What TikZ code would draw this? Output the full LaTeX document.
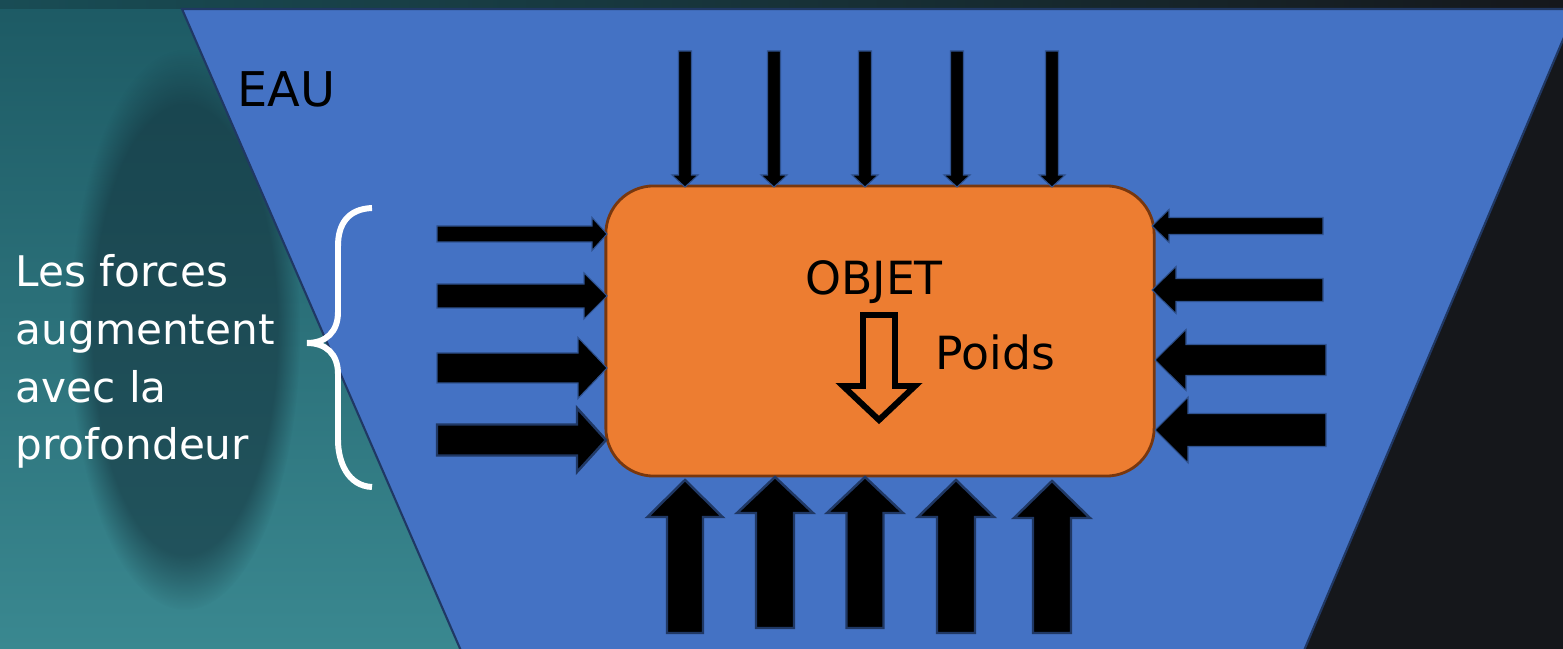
\documentclass[tikz,border=0pt]{standalone}
\usepackage{fontspec}
\setmainfont{DejaVu Sans}
\usetikzlibrary{fadings}
\definecolor{Water}{RGB}{68,114,196}
\definecolor{WaterLine}{RGB}{32,56,100}
\definecolor{Orange}{RGB}{237,125,49}
\definecolor{Rust}{RGB}{120,55,14}
\definecolor{Lagoon}{RGB}{58,136,144}
\definecolor{LagoonDark}{RGB}{29,90,100}
\definecolor{Murk}{RGB}{20,52,62}
\definecolor{Night}{RGB}{21,23,27}
\definecolor{ArrLine}{RGB}{47,82,143}

% block arrow: [style]{tail x,y}{angle}{length}{half shaft}{half head}{head length}
\newcommand{\blockarr}[7][]{%
  \filldraw[force,#1,shift={(#2)},rotate=#3]
    (0,-#5) -- (#4-#7,-#5) -- (#4-#7,-#6) -- (#4,0)
    -- (#4-#7,#6) -- (#4-#7,#5) -- (0,#5) -- cycle;}

\begin{document}
\begin{tikzpicture}[x=0.01cm,y=-0.01cm,
    obj/.style={rectangle,rounded corners=0.48cm,draw=Rust,fill=Orange,
                line width=0.8pt,minimum width=5.48cm,minimum height=2.9cm},
    force/.style={fill=black,draw=ArrLine,line width=0.3pt},
    heavy/.style={draw=WaterLine,line width=0.7pt},
    lbl/.style={inner sep=0pt,font=\fontsize{13}{15}\selectfont},
    side/.style={inner sep=0pt,text=white,align=left,
                 font=\fontsize{12}{16.4}\selectfont}]

  \useasboundingbox (0,0) rectangle (1563,649);
  \clip (0,0) rectangle (1563,649);

  % background
  \fill[Night] (0,0) rectangle (1563,649);
  \shade[top color=LagoonDark,bottom color=Lagoon] (0,0) rectangle (900,649);
  \shade[left color=LagoonDark!85!black,right color=Night] (0,0) rectangle (1563,9);
  \fill[Murk,opacity=0.6,path fading=circle with fuzzy edge 20 percent]
    (185,330) ellipse (115 and 280);

  % water
  \filldraw[fill=Water,draw=WaterLine,line width=0.6pt]
    (182,9) -- (1576,9) -- (1300,660) -- (465,660) -- cycle;
  \node[lbl,font=\fontsize{13.6}{16}\selectfont,anchor=base west] (eau) at (237,107) {EAU};

  % object
  \node[obj] (obj) at (880,331) {};
  \node[lbl,anchor=base] (objet) at (874,295) {OBJET};
  \filldraw[fill=Orange,draw=black,line width=1.7pt,miter limit=10]
    (863,315) -- (895,315) -- (895,386) -- (915,386) -- (879,420)
    -- (843,386) -- (863,386) -- cycle;
  \node[lbl,anchor=base west] (poids) at (935,370) {Poids};

  % top
  \foreach \x in {685,774,865,957,1052}
    \blockarr{\x,51}{-90}{136}{6.5}{13}{12};

  % left
  \blockarr{437,234}{0}{170}{8}{16.5}{15}
  \blockarr{437,296}{0}{170}{12}{23}{23}
  \blockarr{437,368}{0}{170}{15}{30.5}{29}
  \blockarr[heavy]{437,440}{0}{169}{15.5}{32}{29}

  % right
  \blockarr{1323,226}{180}{171}{8.5}{16.5}{17}
  \blockarr{1323,290}{180}{171}{11.5}{23.5}{24}
  \blockarr{1326,360}{180}{171}{15.5}{30.5}{31}
  \blockarr{1326,430}{180}{171}{16.5}{33}{33}

  % bottom
  \blockarr[heavy]{685,633}{90}{153}{18}{37.5}{37}
  \blockarr[heavy]{775,628}{90}{151}{19}{38}{36}
  \blockarr[heavy]{865,628}{90}{151}{18.5}{38}{36}
  \blockarr[heavy]{956,633}{90}{153}{19}{38}{37}
  \blockarr[heavy]{1052,633}{90}{152}{19}{38}{37}

  % brace + note
  \draw[white,line width=1.7pt]
    (372,208) .. controls (348,209) and (338,224) .. (338,246) -- (338,312)
    .. controls (338,332) and (326,343) .. (307,343)
    .. controls (326,343) and (338,354) .. (338,374) -- (338,440)
    .. controls (338,462) and (348,486) .. (372,487);
  \node[side,anchor=north west] (note) at (15,254)
    {Les forces\\augmentent\\avec la\\profondeur};
\end{tikzpicture}
\end{document}
